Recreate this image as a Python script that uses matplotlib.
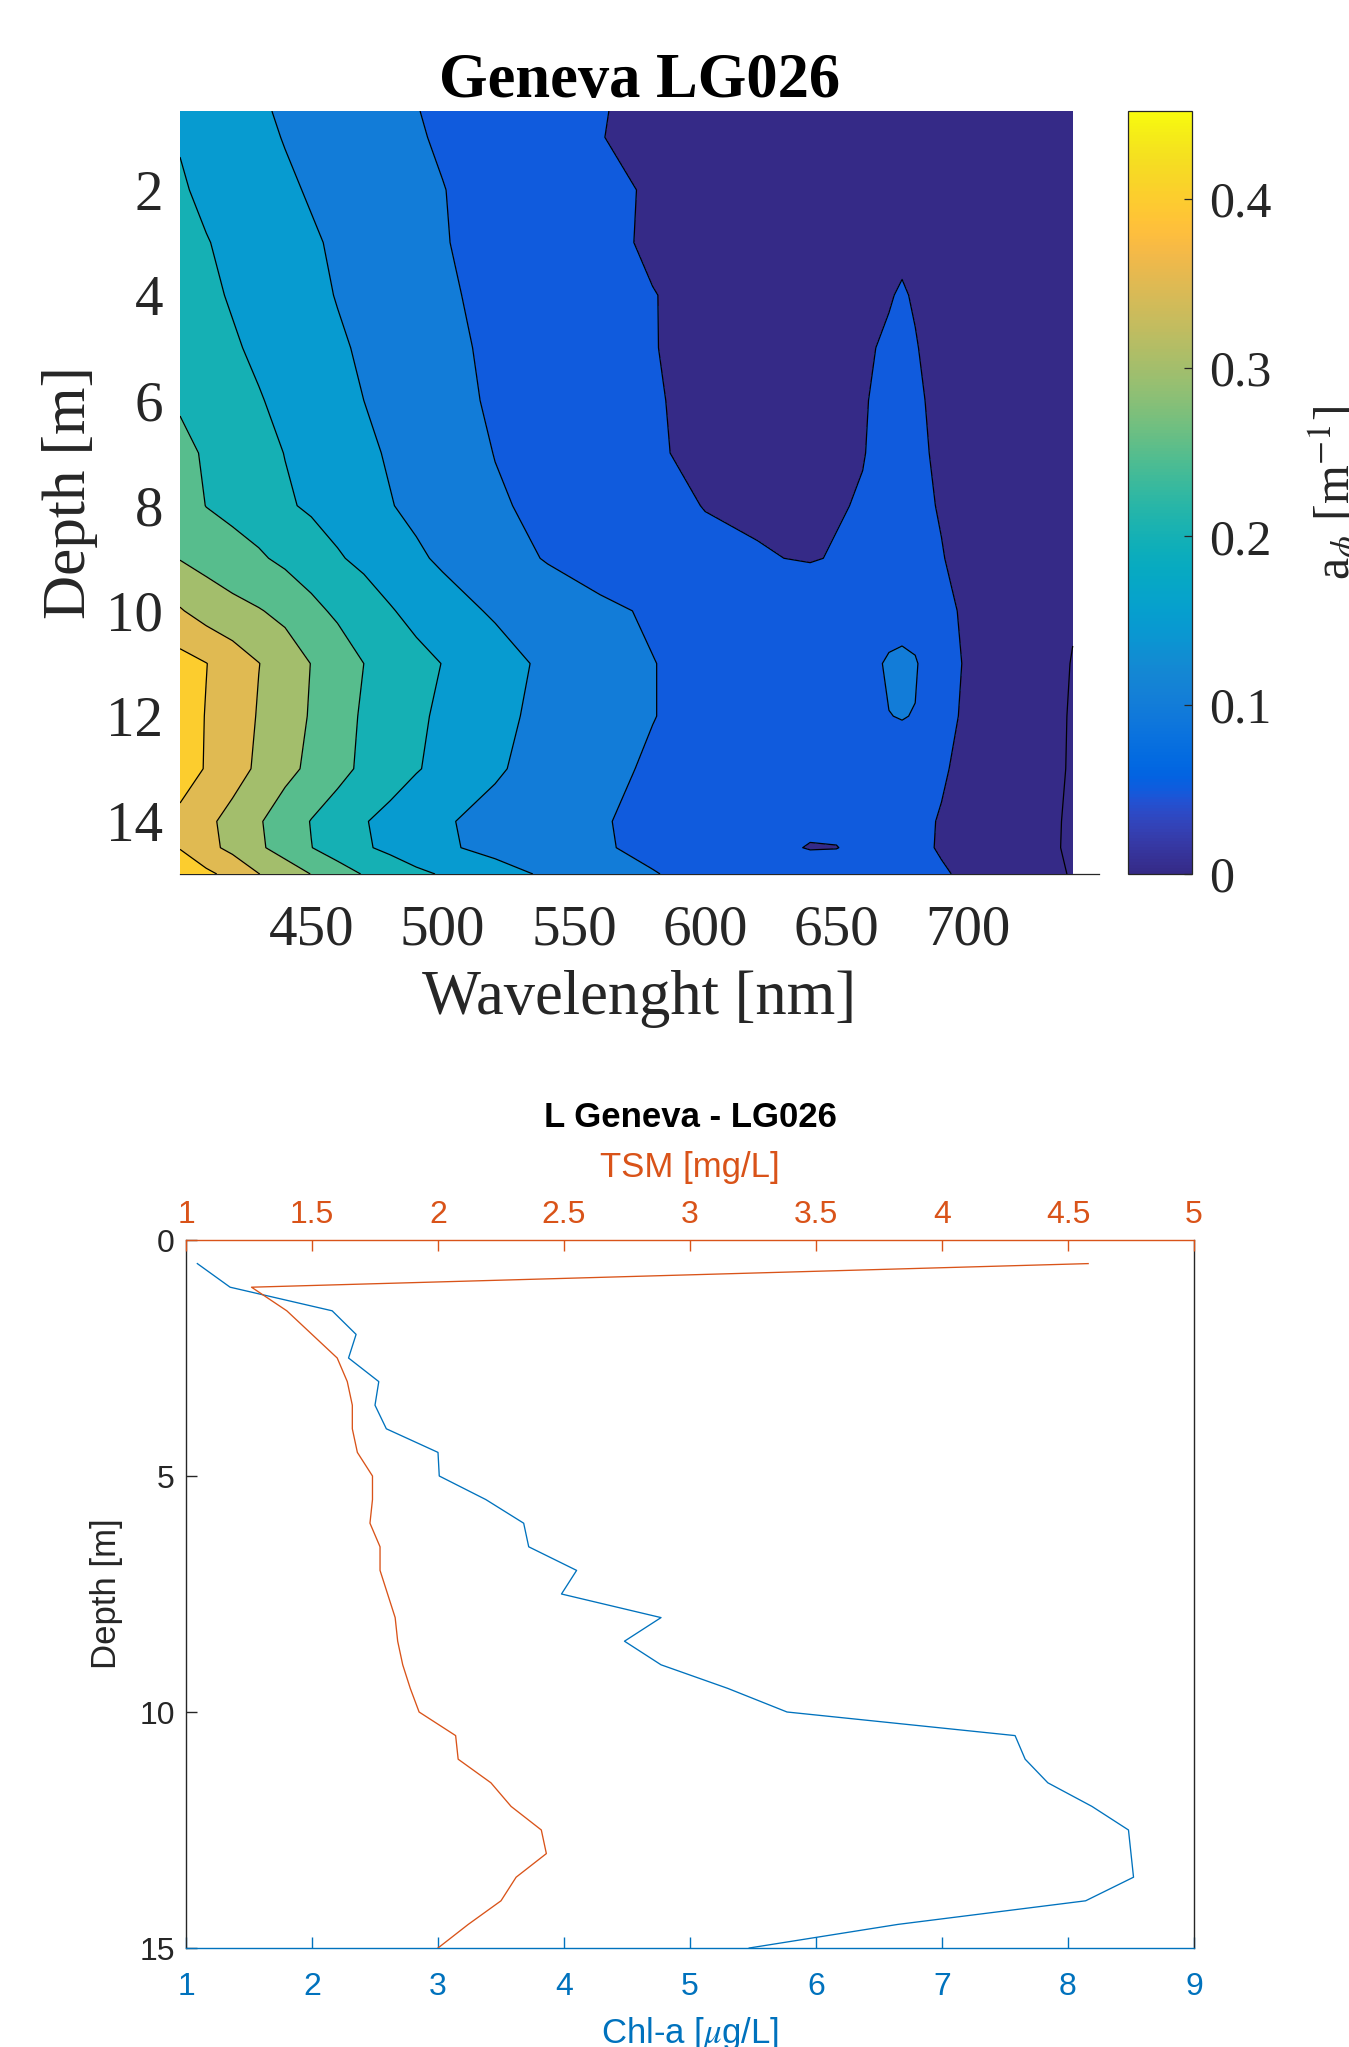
import numpy as np
import matplotlib
matplotlib.use("Agg")
import matplotlib.pyplot as plt
from matplotlib.colors import LinearSegmentedColormap, Normalize
from matplotlib.cm import ScalarMappable

# ---------------- data: absorption section (top) ----------------
wavelength = [400, 410, 420, 430, 440, 450, 460, 470, 480, 490, 500, 520, 540,
              560, 580, 600, 620, 640, 650, 660, 670, 675, 680, 690, 700, 720, 740]
depth_grid = [0.5, 1, 2, 3, 4, 5, 6, 7, 8, 9, 10, 11, 12, 13, 14, 14.5, 15]
absorption = [
    [0.190, 0.178, 0.166, 0.155, 0.145, 0.136, 0.127, 0.118, 0.109, 0.101, 0.094, 0.080, 0.066, 0.052, 0.040, 0.032, 0.026, 0.022, 0.021, 0.022, 0.025, 0.026, 0.022, 0.016, 0.012, 0.008, 0.005],
    [0.197, 0.184, 0.172, 0.160, 0.148, 0.139, 0.130, 0.121, 0.112, 0.103, 0.096, 0.082, 0.067, 0.051, 0.040, 0.032, 0.027, 0.023, 0.022, 0.024, 0.028, 0.029, 0.024, 0.017, 0.012, 0.008, 0.005],
    [0.205, 0.191, 0.179, 0.168, 0.157, 0.146, 0.137, 0.128, 0.119, 0.110, 0.101, 0.086, 0.072, 0.059, 0.046, 0.036, 0.030, 0.026, 0.025, 0.028, 0.033, 0.035, 0.028, 0.020, 0.014, 0.009, 0.006],
    [0.215, 0.202, 0.190, 0.178, 0.167, 0.155, 0.144, 0.134, 0.124, 0.114, 0.102, 0.088, 0.074, 0.059, 0.045, 0.037, 0.031, 0.028, 0.028, 0.033, 0.040, 0.043, 0.033, 0.022, 0.015, 0.010, 0.006],
    [0.222, 0.209, 0.196, 0.184, 0.173, 0.161, 0.148, 0.137, 0.126, 0.116, 0.104, 0.093, 0.079, 0.066, 0.051, 0.041, 0.035, 0.032, 0.033, 0.039, 0.048, 0.053, 0.047, 0.030, 0.018, 0.011, 0.007],
    [0.232, 0.218, 0.205, 0.192, 0.180, 0.169, 0.156, 0.144, 0.133, 0.122, 0.108, 0.094, 0.082, 0.067, 0.051, 0.042, 0.037, 0.037, 0.040, 0.046, 0.054, 0.058, 0.052, 0.036, 0.022, 0.012, 0.008],
    [0.245, 0.232, 0.219, 0.203, 0.189, 0.177, 0.164, 0.150, 0.138, 0.127, 0.115, 0.094, 0.083, 0.069, 0.052, 0.044, 0.040, 0.040, 0.042, 0.048, 0.057, 0.061, 0.056, 0.040, 0.025, 0.014, 0.008],
    [0.262, 0.245, 0.230, 0.215, 0.199, 0.185, 0.172, 0.158, 0.146, 0.133, 0.122, 0.099, 0.086, 0.072, 0.053, 0.044, 0.042, 0.043, 0.045, 0.049, 0.058, 0.063, 0.058, 0.043, 0.027, 0.015, 0.008],
    [0.275, 0.249, 0.238, 0.226, 0.206, 0.193, 0.180, 0.166, 0.152, 0.140, 0.128, 0.105, 0.090, 0.076, 0.060, 0.049, 0.046, 0.046, 0.048, 0.052, 0.060, 0.064, 0.060, 0.047, 0.031, 0.017, 0.008],
    [0.298, 0.284, 0.268, 0.256, 0.240, 0.226, 0.205, 0.188, 0.172, 0.157, 0.143, 0.118, 0.097, 0.082, 0.068, 0.058, 0.052, 0.048, 0.052, 0.057, 0.064, 0.068, 0.064, 0.052, 0.036, 0.019, 0.006],
    [0.354, 0.330, 0.316, 0.303, 0.288, 0.262, 0.242, 0.228, 0.204, 0.185, 0.170, 0.144, 0.125, 0.108, 0.095, 0.083, 0.075, 0.072, 0.073, 0.078, 0.085, 0.088, 0.084, 0.065, 0.040, 0.018, 0.002],
    [0.418, 0.401, 0.376, 0.351, 0.326, 0.299, 0.276, 0.250, 0.232, 0.215, 0.199, 0.170, 0.140, 0.118, 0.101, 0.088, 0.081, 0.080, 0.083, 0.088, 0.104, 0.106, 0.103, 0.074, 0.043, 0.018, -0.001],
    [0.425, 0.398, 0.380, 0.346, 0.322, 0.296, 0.270, 0.244, 0.226, 0.208, 0.192, 0.162, 0.137, 0.116, 0.101, 0.088, 0.080, 0.078, 0.080, 0.086, 0.0995, 0.101, 0.099, 0.068, 0.040, 0.016, -0.002],
    [0.415, 0.398, 0.369, 0.342, 0.312, 0.291, 0.266, 0.240, 0.222, 0.203, 0.188, 0.156, 0.130, 0.110, 0.095, 0.083, 0.075, 0.071, 0.072, 0.077, 0.085, 0.088, 0.083, 0.057, 0.033, 0.013, -0.002],
    [0.392, 0.360, 0.335, 0.304, 0.278, 0.248, 0.224, 0.203, 0.186, 0.170, 0.155, 0.135, 0.117, 0.103, 0.090, 0.076, 0.066, 0.058, 0.059, 0.063, 0.068, 0.070, 0.064, 0.046, 0.028, 0.011, -0.003],
    [0.398, 0.364, 0.338, 0.307, 0.281, 0.251, 0.227, 0.206, 0.189, 0.172, 0.157, 0.137, 0.119, 0.104, 0.091, 0.075, 0.062, 0.048, 0.049, 0.060, 0.066, 0.068, 0.063, 0.045, 0.027, 0.010, -0.003],
    [0.430, 0.410, 0.385, 0.351, 0.325, 0.299, 0.272, 0.247, 0.230, 0.210, 0.196, 0.168, 0.143, 0.120, 0.102, 0.088, 0.078, 0.072, 0.071, 0.072, 0.074, 0.075, 0.070, 0.056, 0.040, 0.016, -0.002],
]
contour_levels = [-0.05, 0.0, 0.05, 0.10, 0.15, 0.20, 0.25, 0.30, 0.35, 0.40, 0.45]
cbar_ticks = [0, 0.1, 0.2, 0.3, 0.4]
cbar_ticklabels = ["0", "0.1", "0.2", "0.3", "0.4"]
wl_ticks = [450, 500, 550, 600, 650, 700]
depth_ticks_top = [2, 4, 6, 8, 10, 12, 14]

# ---------------- data: profiles (bottom) ----------------
profile_depth = [0.5, 1.0, 1.5, 2.0, 2.5, 3.0, 3.5, 4.0, 4.5, 5.0, 5.5, 6.0, 6.5, 7.0, 7.5,
                 8.0, 8.5, 9.0, 9.5, 10.0, 10.5, 11.0, 11.5, 12.0, 12.5, 13.0, 13.5, 14.0,
                 14.5, 15.0]
chl = [1.09, 1.35, 2.16, 2.35, 2.29, 2.53, 2.50, 2.59, 3.00, 3.01, 3.38, 3.68, 3.72, 4.10,
       3.98, 4.77, 4.48, 4.77, 5.30, 5.77, 7.58, 7.66, 7.84, 8.19, 8.48, 8.50, 8.52, 8.14,
       6.65, 5.47]
tsm = [4.58, 1.26, 1.40, 1.50, 1.60, 1.64, 1.66, 1.66, 1.68, 1.74, 1.74, 1.73, 1.77, 1.77,
       1.80, 1.83, 1.84, 1.86, 1.89, 1.925, 2.07, 2.08, 2.21, 2.29, 2.41, 2.43, 2.31, 2.25,
       2.12, 2.00]
chl_ticks = [1, 2, 3, 4, 5, 6, 7, 8, 9]
tsm_ticks = [1, 1.5, 2, 2.5, 3, 3.5, 4, 4.5, 5]
tsm_ticklabels = ["1", "1.5", "2", "2.5", "3", "3.5", "4", "4.5", "5"]
depth_ticks_bottom = [0, 5, 10, 15]

# ---------------- parula colormap ----------------
parula_rgb = [
    (0.2081, 0.1663, 0.5292), (0.2116, 0.1898, 0.5777), (0.2123, 0.2138, 0.6270), (0.2081, 0.2386, 0.6771),
    (0.1959, 0.2645, 0.7279), (0.1707, 0.2919, 0.7792), (0.1253, 0.3242, 0.8303), (0.0591, 0.3598, 0.8683),
    (0.0117, 0.3875, 0.8820), (0.0060, 0.4086, 0.8828), (0.0165, 0.4266, 0.8786), (0.0329, 0.4430, 0.8720),
    (0.0498, 0.4586, 0.8641), (0.0629, 0.4737, 0.8554), (0.0723, 0.4887, 0.8467), (0.0779, 0.5040, 0.8384),
    (0.0793, 0.5200, 0.8312), (0.0749, 0.5375, 0.8263), (0.0641, 0.5570, 0.8240), (0.0488, 0.5772, 0.8228),
    (0.0343, 0.5966, 0.8199), (0.0265, 0.6137, 0.8135), (0.0239, 0.6287, 0.8038), (0.0231, 0.6418, 0.7913),
    (0.0228, 0.6535, 0.7768), (0.0267, 0.6642, 0.7607), (0.0384, 0.6743, 0.7436), (0.0590, 0.6838, 0.7254),
    (0.0843, 0.6928, 0.7062), (0.1133, 0.7015, 0.6859), (0.1453, 0.7098, 0.6646), (0.1801, 0.7177, 0.6424),
    (0.2178, 0.7250, 0.6193), (0.2586, 0.7317, 0.5954), (0.3022, 0.7376, 0.5712), (0.3482, 0.7424, 0.5473),
    (0.3953, 0.7459, 0.5244), (0.4420, 0.7481, 0.5033), (0.4871, 0.7491, 0.4840), (0.5300, 0.7491, 0.4661),
    (0.5709, 0.7485, 0.4494), (0.6099, 0.7473, 0.4337), (0.6473, 0.7456, 0.4188), (0.6834, 0.7435, 0.4044),
    (0.7184, 0.7411, 0.3905), (0.7525, 0.7384, 0.3768), (0.7858, 0.7356, 0.3633), (0.8185, 0.7327, 0.3498),
    (0.8507, 0.7299, 0.3360), (0.8824, 0.7274, 0.3217), (0.9139, 0.7258, 0.3063), (0.9450, 0.7261, 0.2886),
    (0.9739, 0.7314, 0.2666), (0.9938, 0.7455, 0.2403), (0.9990, 0.7653, 0.2164), (0.9955, 0.7861, 0.1967),
    (0.9880, 0.8066, 0.1794), (0.9789, 0.8271, 0.1633), (0.9697, 0.8481, 0.1475), (0.9626, 0.8705, 0.1309),
    (0.9589, 0.8949, 0.1132), (0.9598, 0.9218, 0.0948), (0.9661, 0.9514, 0.0755), (0.9763, 0.9831, 0.0538),
]
parula = LinearSegmentedColormap.from_list("parula", parula_rgb, N=256)
cnorm = Normalize(vmin=0.0, vmax=0.452)

plt.rcParams["mathtext.fontset"] = "stix"
SERIF = "Liberation Serif"
SANS = "Liberation Sans"
BLUE = "#0072BD"
ORANGE = "#D95319"
DARK = "#262626"

fig = plt.figure(figsize=(13.49, 20.47), dpi=100)

# ---------------- top: contour section ----------------
ax = fig.add_axes([180 / 1349, 1 - 874 / 2047, 919 / 1349, 763 / 2047])
W = np.array(wavelength)
D = np.array(depth_grid)
A = np.array(absorption)
band_colors = [parula(cnorm(max(lv, 0.0))) for lv in contour_levels[:-1]]
ax.contourf(W, D, A, levels=contour_levels, colors=band_colors, zorder=3)
ax.contour(W, D, A, levels=contour_levels[1:-1], colors="k", linewidths=0.9, zorder=3.2)
ax.set_xlim(400, 750)
ax.set_ylim(15, 0.5)
ax.set_xticks(wl_ticks)
ax.set_xticklabels([str(t) for t in wl_ticks])
ax.set_yticks(depth_ticks_top)
ax.set_yticklabels([str(t) for t in depth_ticks_top])
for s in ["top", "right", "left"]:
    ax.spines[s].set_visible(False)
ax.spines["bottom"].set_color(DARK)
ax.spines["bottom"].set_linewidth(0.9)
ax.tick_params(axis="x", length=0, pad=22, labelsize=41, colors=DARK)
ax.tick_params(axis="y", length=0, pad=12, labelsize=41, colors=DARK)
for lab in ax.get_xticklabels() + ax.get_yticklabels():
    lab.set_fontfamily(SERIF)
ax.set_xlabel("Wavelenght [nm]", fontsize=45, family=SERIF, color=DARK, labelpad=10)
ax.set_ylabel("Depth [m]", fontsize=44, family=SERIF, color=DARK, labelpad=6)
ax.set_title("Geneva LG026", fontsize=45, family=SERIF, fontweight="bold", pad=10)

cax = fig.add_axes([1128 / 1349, 1 - 874 / 2047, 64 / 1349, 763 / 2047])
cb = fig.colorbar(ScalarMappable(norm=cnorm, cmap=parula), cax=cax)
cb.set_ticks(cbar_ticks)
cb.set_ticklabels(cbar_ticklabels)
cb.outline.set_edgecolor(DARK)
cb.outline.set_linewidth(0.9)
cax.tick_params(direction="in", length=6, width=0.9, colors=DARK, labelsize=36, pad=12)
for lab in cax.get_yticklabels():
    lab.set_fontfamily(SERIF)
fig.text(1306 / 1349, 1 - 493 / 2047, r"a$_{\phi}$ [m$^{-1}$]", rotation=90,
         ha="left", va="center", fontsize=36, family=SERIF, color=DARK)

# ---------------- bottom: profiles ----------------
ax1 = fig.add_axes([186 / 1349, 1 - 1948 / 2047, 1008 / 1349, 708 / 2047])
ax1.plot(chl, profile_depth, color=BLUE, lw=0.95)
ax1.set_xlim(1, 9)
ax1.set_ylim(15, 0)
ax1.set_xticks(chl_ticks)
ax1.set_xticklabels([str(t) for t in chl_ticks])
ax1.set_yticks(depth_ticks_bottom)
ax1.set_yticklabels([str(t) for t in depth_ticks_bottom])
ax1.spines["top"].set_visible(False)
ax1.spines["bottom"].set_color(BLUE)
ax1.spines["left"].set_color(DARK)
ax1.spines["right"].set_color(DARK)
for s in ax1.spines.values():
    s.set_linewidth(1.0)
ax1.tick_params(axis="x", direction="in", length=8, width=1.0, colors=BLUE,
                labelsize=23, pad=17)
ax1.tick_params(axis="y", direction="in", length=8, width=1.0, colors=DARK,
                labelsize=23, pad=8)
for lab in ax1.get_xticklabels() + ax1.get_yticklabels():
    lab.set_fontfamily(SANS)
ax1.set_xlabel(r"Chl-a [$\mu$g/L]", fontsize=25, family=SANS, color=BLUE, labelpad=10)
ax1.set_ylabel("Depth [m]", fontsize=25, family=SANS, color=DARK, labelpad=12)

ax2 = ax1.twiny()
ax2.plot(tsm, profile_depth, color=ORANGE, lw=0.95)
ax2.set_xlim(1, 5)
ax2.set_xticks(tsm_ticks)
ax2.set_xticklabels(tsm_ticklabels)
for s in ["left", "right", "bottom"]:
    ax2.spines[s].set_visible(False)
ax2.spines["top"].set_color(ORANGE)
ax2.spines["top"].set_linewidth(1.0)
ax2.tick_params(axis="x", direction="in", length=8, width=1.0, colors=ORANGE,
                labelsize=23, pad=7)
for lab in ax2.get_xticklabels():
    lab.set_fontfamily(SANS)
ax2.set_xlabel("TSM [mg/L]", fontsize=25, family=SANS, color=ORANGE, labelpad=17)
ax2.set_title("L Geneva - LG026", fontsize=25, family=SANS, fontweight="bold", pad=17)

fig.savefig("out.png", dpi=100)
